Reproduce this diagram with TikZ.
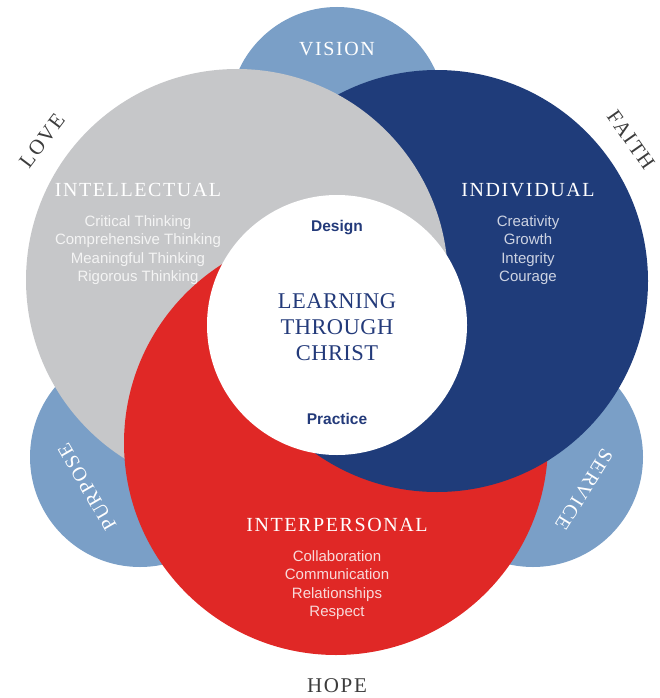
\documentclass[tikz,border=0pt]{standalone}
\usepackage{fontspec}
\setmainfont{Liberation Serif}
\setsansfont{Liberation Sans}
\newfontfamily\headfont[LetterSpace=8]{Liberation Serif}
\newfontfamily\corefont[LetterSpace=2]{Liberation Serif}
\definecolor{cgray}{HTML}{C6C7C9}
\definecolor{cblue}{HTML}{1F3C7A}
\definecolor{cred}{HTML}{E02826}
\definecolor{clight}{HTML}{7A9FC7}
\definecolor{ctext}{HTML}{233A7A}
\definecolor{clabel}{HTML}{3C3C3C}
\definecolor{tgray}{HTML}{F4F4F4}
\definecolor{tblue}{HTML}{CDD3E2}
\definecolor{tred}{HTML}{F8DADA}
\begin{document}
\begin{tikzpicture}[x=1pt,y=-1pt,
  head/.style={inner sep=0pt,text=white,font=\headfont\fontsize{20}{24}\selectfont},
  outer/.style={inner sep=0pt,text=clabel,font=\headfont\fontsize{21}{24}\selectfont},
  body/.style={inner sep=0pt,align=center,font=\sffamily\fontsize{15}{18.3}\selectfont},
  sub/.style={inner sep=0pt,text=ctext,font=\sffamily\bfseries\fontsize{15.5}{18}\selectfont},
  core/.style={inner sep=0pt,align=center,text=ctext,font=\corefont\fontsize{22.5}{26}\selectfont}]
\useasboundingbox (0,0) rectangle (659,698);
% outer light circles
\fill[clight] (337,115) circle (108pt);
\fill[clight] (140,457) circle (110pt);
\fill[clight] (533,457) circle (110pt);
% big circles, interlocked
\fill[cblue] (437,281) circle (211pt);
\fill[cgray] (237,280) circle (211pt);
\fill[cred] (336,443) circle (212pt);
\begin{scope}
  \clip (336,443) circle (214pt);
  \fill[cblue] (437,281) circle (211pt);
\end{scope}
\fill[white] (337,325) circle (130pt);
% labels
\node[head] (vision) at (337,49) {VISION};
\node[outer,rotate=53] (love) at (42,141) {LOVE};
\node[outer,rotate=-55] (faith) at (631,140) {FAITH};
\node[outer] (hope) at (337,686) {HOPE};
\node[head,rotate=120] (purpose) at (87,487) {PURPOSE};
\node[head,rotate=-122] (service) at (584,490) {SERVICE};
% headings
\node[head] (intel) at (138,190) {INTELLECTUAL};
\node[head] (indiv) at (528,190) {INDIVIDUAL};
\node[head] (inter) at (337,525) {INTERPERSONAL};
% lists
\node[body,text=tgray] (intellist) at (138,250) {Critical Thinking\\Comprehensive Thinking\\Meaningful Thinking\\Rigorous Thinking};
\node[body,text=tblue] (indivlist) at (528,250) {Creativity\\Growth\\Integrity\\Courage};
\node[body,text=tred] (interlist) at (337,585) {Collaboration\\Communication\\Relationships\\Respect};
% center
\node[sub] (design) at (337,228) {Design};
\node[sub] (practice) at (337,419) {Practice};
\node[core] (ltc) at (337,327) {LEARNING\\THROUGH\\CHRIST};
\end{tikzpicture}
\end{document}
